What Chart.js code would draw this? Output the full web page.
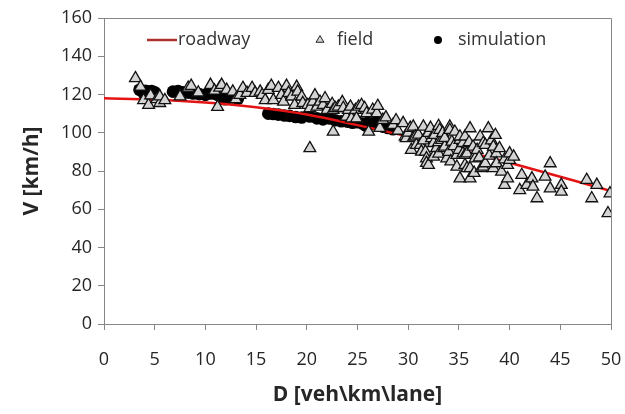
<!DOCTYPE html>
<html>
<head>
<meta charset="utf-8">
<script src="https://cdn.jsdelivr.net/npm/chart.js@4.4.1/dist/chart.umd.min.js"></script>
<style>
  body { margin: 0; background: #fff; }
</style>
</head>
<body>
<canvas id="chart" width="625" height="414"></canvas>
<script>
// tick values
const xTicks = [0, 5, 10, 15, 20, 25, 30, 35, 40, 45, 50];
const yTicks = [0, 20, 40, 60, 80, 100, 120, 140, 160];

// roadway model curve
const roadD = [0, 5, 10, 15, 20, 25, 30, 35, 40, 45, 50];
const roadV = [118, 117.3, 115.8, 113.3, 109.5, 104, 98, 91.2, 84.3, 77, 69.5];

// field measurements
const fieldD = [3.1, 3.6, 3.9, 4.4, 4.6, 5.2, 5.5, 5.5, 6.0, 7.5, 8.3, 8.6, 9.3, 10.5, 10.9, 11.4, 11.2, 11.6, 12.1, 12.7,
  13.0, 13.4, 13.7, 14.1, 14.6, 14.9, 15.4, 15.6, 15.9, 16.2, 16.5, 16.7, 17.2, 17.5, 17.7, 18.0, 18.2, 18.5, 18.8, 19.0,
  19.1, 19.5, 19.6, 20.1, 20.3, 20.6, 20.8, 21.0, 21.3, 21.6, 21.8, 22.0, 22.5, 22.6, 22.8, 23.1, 23.5, 23.6, 23.9, 24.1,
  24.3, 24.4, 24.8, 24.9, 25.1, 25.4, 25.7, 25.9, 26.5, 26.9, 27.0, 26.1, 27.2, 27.5, 27.8, 28.5, 28.8, 29.0, 29.5, 29.7,
  29.8, 30.0, 30.2, 30.5, 30.5, 30.7, 30.3, 30.8, 31.0, 31.2, 31.3, 31.5, 31.5, 31.7, 31.8, 31.8, 32.0, 32.0, 32.2, 32.3,
  32.5, 32.5, 32.6, 32.8, 33.0, 33.0, 33.0, 33.1, 33.3, 33.4, 33.5, 33.6, 33.6, 33.8, 34.0, 34.1, 34.1, 34.2, 34.3, 34.5,
  34.6, 34.8, 34.8, 35.0, 35.1, 35.1, 35.1, 35.4, 35.4, 35.6, 35.6, 35.6, 35.8, 35.8, 36.0, 36.1, 36.1, 36.1, 36.4, 36.5,
  36.6, 36.6, 36.8, 37.0, 37.1, 37.2, 37.4, 37.4, 37.6, 37.6, 37.9, 38.0, 38.2, 38.4, 38.4, 38.6, 38.7, 38.7, 39.0, 39.2,
  39.5, 39.5, 39.8, 39.8, 40.0, 40.0, 40.4, 41.0, 41.2, 41.7, 42.2, 42.3, 42.7, 43.5, 44.0, 44.0, 45.1, 45.1, 47.6, 48.6,
  48.1, 49.9, 49.7, 20.3, 22.6];
const fieldV = [128.5, 124, 117, 114.5, 119.5, 117.5, 115.5, 119, 117, 119, 123.5, 124.5, 121, 125, 122, 123.5, 113.5, 125, 122.4, 121.5,
  117.5, 119.7, 123.4, 120.8, 123.4, 120.8, 121.5, 119.7, 117, 122.4, 124.5, 117, 123.4, 119.7, 116.2, 124.5, 120.8, 118.9, 114.5, 124,
  121.5, 118.9, 115.5, 114.5, 112.8, 116.2, 119.5, 113.6, 116.2, 114.5, 118, 111.9, 115, 111.9, 112.9, 113.6, 116, 112.9, 108.4, 111.9,
  113.6, 107.5, 111.9, 107.5, 113.6, 114.5, 112.9, 110.2, 112, 110.2, 114, 100.5, 102.5, 106.7, 108, 104, 106.5, 101, 105, 98,
  97.1, 100, 102.5, 103.2, 97.3, 98, 91, 93.6, 99, 93.6, 90.1, 103.2, 96, 90.1, 86.6, 84.2, 83.1, 99.9, 102.5, 97.1,
  94.6, 87.5, 98.8, 92, 89, 95, 103.5, 101.4, 96.2, 99.9, 91.9, 92.7, 97.3, 86.6, 90, 103.2, 101.4, 85, 95.3, 93,
  100.5, 88.4, 82.2, 91, 96.2, 98, 76.1, 94.6, 89.2, 83.1, 98, 88.4, 89.2, 81.4, 95, 102.3, 81.4, 76.1, 92.7, 79,
  88.4, 86.6, 91, 87, 98, 81.4, 94.6, 82.2, 93.6, 84, 102.3, 88, 96, 92.7, 81.4, 98.8, 89.2, 84, 91.9, 79.6,
  72.7, 86, 76.1, 83.1, 85.8, 89.2, 87.5, 70, 77.9, 72.7, 76.1, 71.8, 65.7, 77, 84, 70.9, 72.7, 69.2, 75.3, 72.7,
  65.7, 68.3, 57.9, 91.9, 100.5];

// simulation output
const simD = [3.5, 3.8, 4.1, 4.4, 4.7, 5.0, 4.2, 3.9, 6.8, 7.3, 7.8, 8.3, 8.8, 9.4, 10.0, 10.6, 11.2, 11.7, 12.2, 12.7,
  13.2, 11.9, 16.2, 16.7, 17.2, 17.8, 18.3, 18.9, 19.5, 20.3, 21.0, 21.6, 22.2, 22.8, 23.4, 24.0, 24.5, 25.0, 25.5, 26.0,
  26.5, 27.0, 27.5, 28.0, 28.5, 25.8, 26.8, 24.8];
const simV = [122.5, 121.8, 122, 121.5, 121.8, 121.2, 120.5, 120.8, 121.5, 121.8, 121.2, 121, 120.5, 120.2, 119.8, 120.5, 119.8, 119, 118.2, 118.5,
  117.8, 117.5, 110, 109.8, 109.5, 109, 108.8, 108.2, 108, 108.5, 107.5, 107, 107.5, 106.5, 106, 105.8, 105.2, 105.5, 104.8, 105.2,
  104.5, 104, 103.2, 102.5, 101.8, 103.8, 105.8, 106.5];

const toXY = (xs, ys) => xs.map((x, i) => ({ x: x, y: ys[i] }));

const axisGray = '#868686';
const textColor = '#262626';
const fontFamily = "'Open Sans', 'Noto Sans', sans-serif";

// plot box (top and right edge) and the legend inside the plot area
const frameAndLegend = {
  id: 'frameAndLegend',
  afterDraw(chart) {
    const { ctx, chartArea: a } = chart;
    ctx.save();
    ctx.strokeStyle = axisGray;
    ctx.lineWidth = 1;
    ctx.beginPath();
    ctx.moveTo(a.left, a.top + 0.5);
    ctx.lineTo(a.right + 0.5, a.top + 0.5);
    ctx.lineTo(a.right + 0.5, a.bottom);
    ctx.stroke();

    const y = a.top + 22;
    ctx.font = '18px ' + fontFamily;
    ctx.fillStyle = '#333';
    ctx.textBaseline = 'middle';

    ctx.strokeStyle = '#b03030';
    ctx.lineWidth = 2.5;
    ctx.beginPath();
    ctx.moveTo(a.left + 43, y);
    ctx.lineTo(a.left + 73, y);
    ctx.stroke();
    ctx.fillText('roadway', a.left + 74, y);

    const tx = a.left + 216, r = 4.5;
    ctx.beginPath();
    ctx.moveTo(tx, y - r);
    ctx.lineTo(tx + r * 0.87, y + r * 0.5);
    ctx.lineTo(tx - r * 0.87, y + r * 0.5);
    ctx.closePath();
    ctx.fillStyle = '#d4d4d4';
    ctx.fill();
    ctx.strokeStyle = '#222';
    ctx.lineWidth = 1;
    ctx.stroke();
    ctx.fillStyle = '#333';
    ctx.fillText('field', a.left + 233, y);

    ctx.beginPath();
    ctx.arc(a.left + 334, y, 4, 0, Math.PI * 2);
    ctx.fillStyle = '#000';
    ctx.fill();
    ctx.fillStyle = '#333';
    ctx.fillText('simulation', a.left + 354, y);
    ctx.restore();
  }
};

new Chart(document.getElementById('chart'), {
  type: 'scatter',
  data: {
    datasets: [
      {
        label: 'field',
        data: toXY(fieldD, fieldV),
        pointStyle: 'triangle',
        pointRadius: 6.8,
        backgroundColor: '#d4d4d4',
        borderColor: '#111',
        borderWidth: 1.3,
        order: 1
      },
      {
        label: 'roadway',
        type: 'line',
        data: toXY(roadD, roadV),
        borderColor: 'rgb(228, 20, 20)',
        borderWidth: 2.5,
        pointRadius: 0,
        cubicInterpolationMode: 'monotone',
        fill: false,
        order: 2
      },
      {
        label: 'simulation',
        data: toXY(simD, simV),
        pointStyle: 'circle',
        pointRadius: 6.3,
        backgroundColor: '#000',
        borderColor: '#000',
        borderWidth: 0,
        order: 3
      }
    ]
  },
  options: {
    responsive: false,
    animation: false,
    layout: { padding: { top: 18, right: 14, left: 0, bottom: 0 } },
    plugins: { legend: { display: false }, tooltip: { enabled: false } },
    scales: {
      x: {
        type: 'linear',
        min: 0,
        max: 50,
        afterBuildTicks: s => { s.ticks = xTicks.map(v => ({ value: v })); },
        afterFit: s => { s.height = 90; s.paddingRight = 0; s.paddingLeft = 0; },
        ticks: { padding: 19, color: textColor, font: { family: fontFamily, size: 18 } },
        grid: { drawOnChartArea: false, drawTicks: true, tickLength: 6, color: axisGray },
        border: { color: axisGray },
        title: {
          display: true,
          text: 'D [veh\\km\\lane]',
          color: textColor,
          font: { family: fontFamily, size: 21, weight: 'bold' },
          padding: { top: 0, bottom: 6 }
        }
      },
      y: {
        min: 0,
        max: 160,
        afterBuildTicks: s => { s.ticks = yTicks.map(v => ({ value: v })); },
        afterFit: s => { s.width = 104; },
        ticks: { padding: 6, color: textColor, font: { family: fontFamily, size: 18 } },
        grid: { drawOnChartArea: false, drawTicks: true, tickLength: 6, color: axisGray },
        border: { color: axisGray },
        title: {
          display: true,
          text: 'V [km/h]',
          color: textColor,
          font: { family: fontFamily, size: 21, weight: 'bold' },
          padding: { top: 19, bottom: 0 }
        }
      }
    }
  },
  plugins: [frameAndLegend]
});
</script>
</body>
</html>
